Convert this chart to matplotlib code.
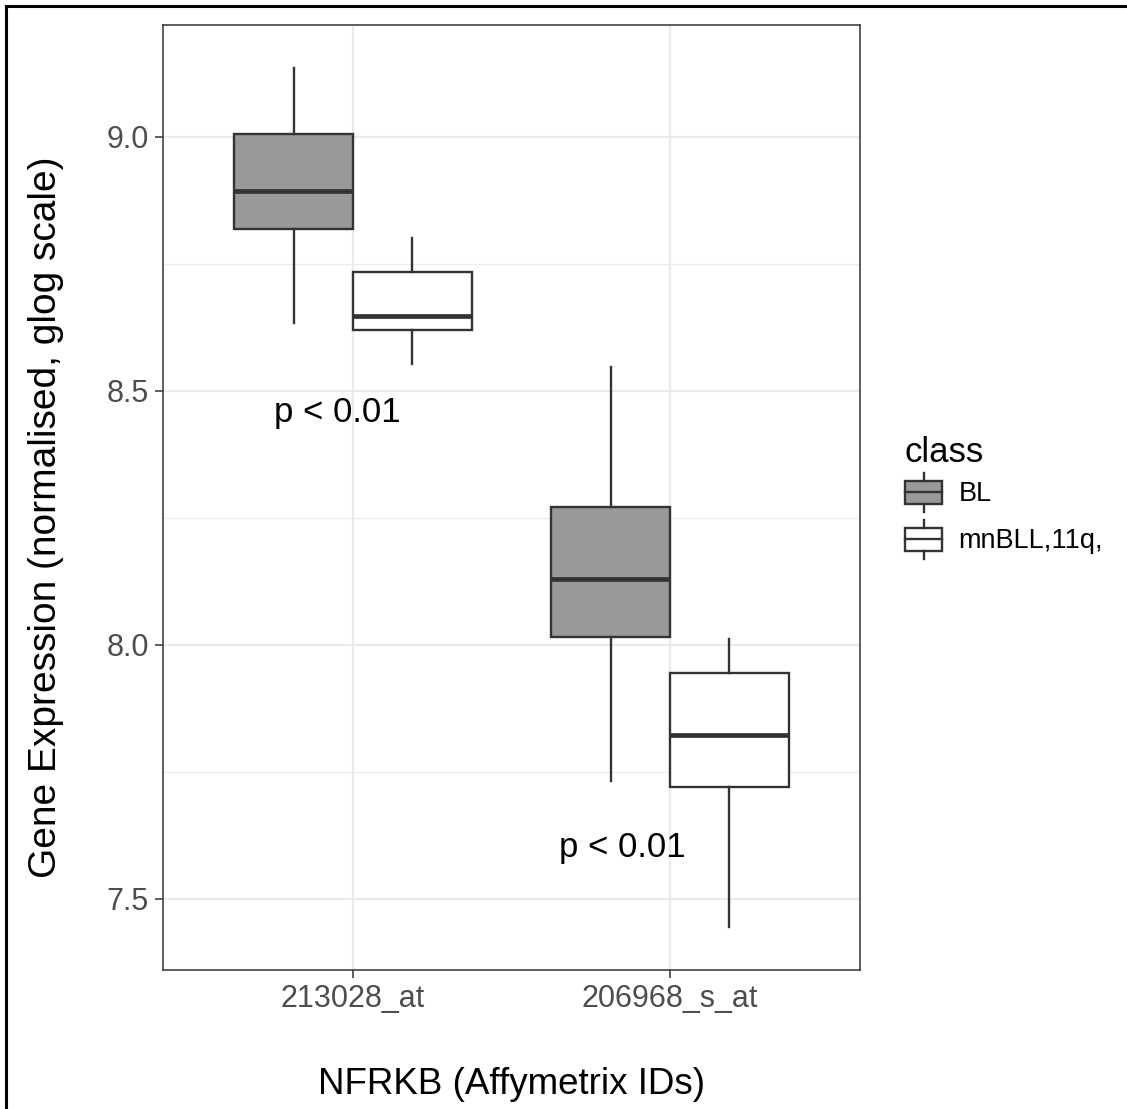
import matplotlib
matplotlib.use("Agg")
import matplotlib.pyplot as plt
from matplotlib.lines import Line2D
from matplotlib.patches import Rectangle
from matplotlib.legend_handler import HandlerBase

plt.rcParams["font.family"] = ["Liberation Sans", "DejaVu Sans"]

# probe sets on the x axis
probes = ["213028_at", "206968_s_at"]
classes = ["BL", "mnBLL,11q,"]
fills = ["#999999", "#FFFFFF"]

# box statistics, one list per class (probe order)
bl_whislo = [8.634, 7.732]
bl_q1 = [8.819, 8.016]
bl_med = [8.894, 8.130]
bl_q3 = [9.006, 8.272]
bl_whishi = [9.136, 8.547]

mn_whislo = [8.553, 7.444]
mn_q1 = [8.620, 7.720]
mn_med = [8.648, 7.823]
mn_q3 = [8.735, 7.945]
mn_whishi = [8.802, 8.011]

p_labels = ["p < 0.01", "p < 0.01"]
p_y = [8.457, 7.602]

EDGE = "#333333"
W, H = 1127, 1109


def make_stats(lo, q1, med, q3, hi):
    return [
        {"whislo": a, "q1": b, "med": c, "q3": d, "whishi": e, "fliers": []}
        for a, b, c, d, e in zip(lo, q1, med, q3, hi)
    ]


class BoxKeyHandler(HandlerBase):
    # small boxplot glyph, like the ggplot legend key
    def create_artists(self, legend, orig_handle, xdescent, ydescent,
                       width, height, fontsize, trans):
        face = orig_handle.get_facecolor()
        bh = height * 0.49
        y0 = -ydescent + (height - bh) / 2
        x0 = -xdescent
        wl = height * 0.085
        box = Rectangle((x0, y0), width, bh, facecolor=face,
                        edgecolor=EDGE, linewidth=1.7, transform=trans)
        xc = x0 + width / 2
        mid = Line2D([x0, x0 + width], [y0 + bh / 2] * 2, color=EDGE,
                     linewidth=1.7, transform=trans)
        top = Line2D([xc, xc], [y0 + bh, -ydescent + height - wl], color=EDGE,
                     linewidth=1.7, transform=trans)
        bot = Line2D([xc, xc], [-ydescent + wl, y0], color=EDGE,
                     linewidth=1.7, transform=trans)
        return [box, top, bot, mid]


fig = plt.figure(figsize=(W / 100, H / 100), dpi=100)
ax = fig.add_axes([163 / W, 1 - 970 / H, (860 - 163) / W, (970 - 25) / H])

positions = list(range(1, len(probes) + 1))
offset = 0.1875
all_stats = [
    make_stats(bl_whislo, bl_q1, bl_med, bl_q3, bl_whishi),
    make_stats(mn_whislo, mn_q1, mn_med, mn_q3, mn_whishi),
]
for k, (stats, fill) in enumerate(zip(all_stats, fills)):
    pos = [p + (k * 2 - 1) * offset for p in positions]
    ax.bxp(
        stats, positions=pos, widths=0.375, patch_artist=True,
        showcaps=False, showfliers=False,
        boxprops=dict(facecolor=fill, edgecolor=EDGE, linewidth=1.7),
        medianprops=dict(color=EDGE, linewidth=3.4, solid_capstyle="butt"),
        whiskerprops=dict(color=EDGE, linewidth=1.7),
        zorder=3,
    )

for x, y, lab in zip([0.95, 1.85], p_y, p_labels):
    ax.text(x, y, lab, ha="center", va="center", fontsize=25, color="black",
            zorder=4)

ax.set_xlim(0.4, 2.6)
ax.set_ylim(7.360, 9.2205)
ax.set_xticks(positions)
ax.set_xticklabels(probes)
ax.set_yticks([7.5, 8.0, 8.5, 9.0])
ax.set_yticklabels(["7.5", "8.0", "8.5", "9.0"])
ax.set_yticks([7.75, 8.25, 8.75], minor=True)
ax.tick_params(axis="both", which="major", length=6, width=1.1,
               color=EDGE, labelsize=22, labelcolor="#4D4D4D", pad=4)
ax.tick_params(axis="y", which="minor", length=0)
ax.grid(True, which="major", color="#EBEBEB", linewidth=1.6, zorder=0)
ax.grid(True, which="minor", axis="y", color="#EBEBEB", linewidth=0.9,
        zorder=0)
ax.set_axisbelow(True)
for sp in ax.spines.values():
    sp.set_color(EDGE)
    sp.set_linewidth(1.1)

ax.set_xlabel("NFRKB (Affymetrix IDs)", fontsize=26.5, labelpad=38)
ax.set_ylabel("Gene Expression (normalised, glog scale)", fontsize=28)
ax.yaxis.set_label_coords(-0.1415, 0.479)

handles = [Rectangle((0, 0), 1, 1, facecolor=f) for f in fills]
leg = fig.legend(
    handles, classes, title="class", loc="upper left",
    bbox_to_anchor=(905 / W, 1 - 436 / H), frameon=False,
    handler_map={Rectangle: BoxKeyHandler()},
    fontsize=19.5, title_fontsize=25, alignment="left",
    handlelength=1.37, handleheight=2.29, handletextpad=0.6,
    labelspacing=0.0, borderpad=0, borderaxespad=0,
)

# outer frame (only top and left edges visible in the reference)
fig.add_artist(Line2D([6 / W, 6 / W], [0, 1 - 6 / H], color="black",
                      linewidth=2.2, transform=fig.transFigure))
fig.add_artist(Line2D([6 / W, 1], [1 - 6 / H, 1 - 6 / H], color="black",
                      linewidth=2.2, transform=fig.transFigure))

fig.savefig("out.png", dpi=100)
